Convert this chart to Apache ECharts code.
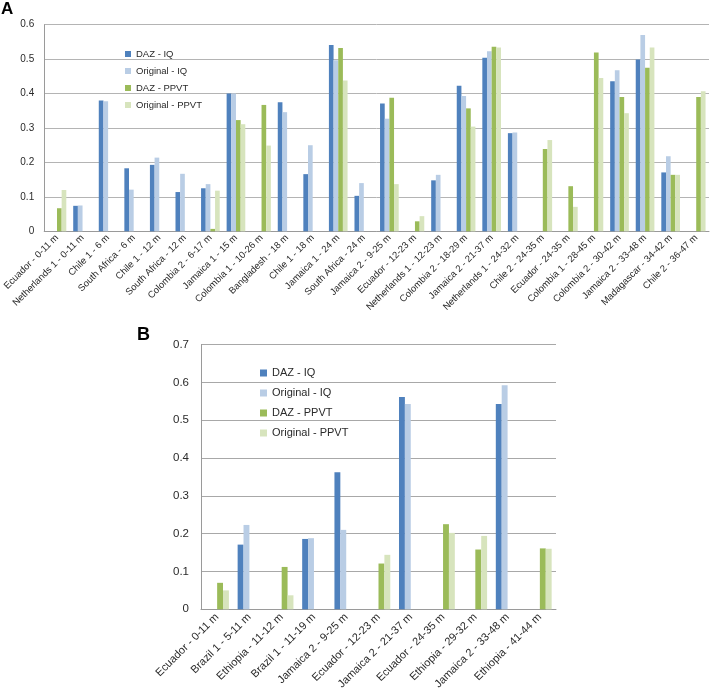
<!DOCTYPE html>
<html>
<head>
<meta charset="utf-8">
<script src="https://cdn.jsdelivr.net/npm/echarts@6/dist/echarts.min.js"></script>
<style>
html,body{margin:0;padding:0;background:#fff;}
#chart{width:710px;height:696px;}
</style>
</head>
<body>
<div id="chart"></div>
<script>
// ---------- Panel A data ----------
var categoriesA = [
  'Ecuador - 0-11 m','Netherlands 1 - 0-11 m','Chile 1 - 6 m','South Africa - 6 m','Chile 1 - 12 m',
  'South Africa - 12 m','Colombia 2 - 6-17 m','Jamaica 1 - 15 m','Colombia 1 - 10-26 m','Bangladesh - 18 m',
  'Chile 1 - 18 m','Jamaica 1 - 24 m','South Africa - 24 m','Jamaica 2 - 9-25 m','Ecuador - 12-23 m',
  'Netherlands 1 - 12-23 m','Colombia 2 - 18-29 m','Jamaica 2 - 21-37 m','Netherlands 1 - 24-32 m','Chile 2 - 24-35 m',
  'Ecuador - 24-35 m','Colombia 1 - 28-45 m','Colombia 2 - 30-42 m','Jamaica 2 - 33-48 m','Madagascar - 34-42 m',
  'Chile 2 - 36-47 m'
];
var dazIQ_A    = [null,0.074,0.380,0.183,0.193,0.114,0.125,0.400,null,0.375,0.166,0.541,0.103,0.371,null,0.148,0.423,0.504,0.285,null,null,null,0.436,0.499,0.171,null];
var origIQ_A   = [null,0.075,0.378,0.121,0.214,0.167,0.137,0.400,null,0.346,0.250,0.497,0.140,0.327,null,0.164,0.393,0.523,0.287,null,null,null,0.468,0.570,0.218,null];
var dazPPVT_A  = [0.067,null,null,null,null,null,0.007,0.323,0.367,null,null,0.532,null,0.388,0.029,null,0.357,0.536,null,0.239,0.131,0.519,0.390,0.475,0.164,0.390];
var origPPVT_A = [0.120,null,null,null,null,null,0.118,0.311,0.249,null,null,0.438,null,0.137,0.044,null,0.304,0.534,null,0.265,0.071,0.445,0.343,0.534,0.164,0.407];

// ---------- Panel B data ----------
var categoriesB = [
  'Ecuador - 0-11 m','Brazil 1 - 5-11 m','Ethiopia - 11-12 m','Brazil 1 - 11-19 m','Jamaica 2 - 9-25 m',
  'Ecuador - 12-23 m','Jamaica 2 - 21-37 m','Ecuador - 24-35 m','Ethiopia - 29-32 m','Jamaica 2 - 33-48 m',
  'Ethiopia - 41-44 m'
];
var dazIQ_B    = [null,0.171,null,0.186,0.362,null,0.561,null,null,0.543,null];
var origIQ_B   = [null,0.223,null,0.188,0.210,null,0.543,null,null,0.592,null];
var dazPPVT_B  = [0.070,null,0.112,null,null,0.121,null,0.225,0.158,null,0.161];
var origPPVT_B = [0.050,null,0.037,null,null,0.144,null,0.202,0.194,null,0.160];

var seriesNames = ['DAZ - IQ','Original - IQ','DAZ - PPVT','Original - PPVT'];
var seriesColors = ['#4F81BD','#B9CDE5','#9BBB59','#D7E4BD'];

var font = 'Liberation Sans, Arial, sans-serif';
var txt = '#2a2a2a';

function bars(idx, arrays) {
  return arrays.map(function (d, i) {
    return {
      name: seriesNames[i], type: 'bar', xAxisIndex: idx, yAxisIndex: idx,
      data: d, itemStyle: { color: seriesColors[i] },
      barGap: '0%', barCategoryGap: '27%'
    };
  });
}

var chart = echarts.init(document.getElementById('chart'), null, { renderer: 'canvas' });
chart.setOption({
  animation: false,
  backgroundColor: '#ffffff',
  color: seriesColors,
  title: [
    { text: 'A', left: 1, top: 1, padding: 0, textStyle: { fontSize: 17, fontWeight: 'bold', color: '#000', fontFamily: font } },
    { text: 'B', left: 137, top: 326, padding: 0, textStyle: { fontSize: 18, fontWeight: 'bold', color: '#000', fontFamily: font } }
  ],
  legend: [
    { data: seriesNames, orient: 'vertical', left: 125, top: 48, padding: 0, itemGap: 5,
      itemWidth: 6, itemHeight: 6, icon: 'rect', selectedMode: false,
      textStyle: { fontSize: 9.5, lineHeight: 12, color: txt, fontFamily: font } },
    { data: seriesNames, orient: 'vertical', left: 260, top: 366, padding: 0, itemGap: 6,
      itemWidth: 7, itemHeight: 7, icon: 'rect', selectedMode: false,
      textStyle: { fontSize: 11, lineHeight: 14, color: txt, fontFamily: font } }
  ],
  grid: [
    { left: 40, top: 24.7, width: 669, height: 206.6, containLabel: false },
    { left: 201, top: 344.5, width: 355, height: 264.8, containLabel: false }
  ],
  xAxis: [
    { type: 'category', gridIndex: 0, data: categoriesA,
      axisLine: { lineStyle: { color: '#9a9a9a' } },
      axisTick: { length: 4, lineStyle: { color: '#9a9a9a' } },
      axisLabel: { rotate: 45, interval: 0, fontSize: 9.5, color: txt, fontFamily: font, margin: 5 } },
    { type: 'category', gridIndex: 1, data: categoriesB,
      axisLine: { lineStyle: { color: '#9a9a9a' } },
      axisTick: { length: 4, lineStyle: { color: '#9a9a9a' } },
      axisLabel: { rotate: 45, interval: 0, fontSize: 11, color: txt, fontFamily: font, margin: 6 } }
  ],
  yAxis: [
    { type: 'value', gridIndex: 0, min: 0, max: 0.6, interval: 0.1,
      axisLine: { show: true, lineStyle: { color: '#9a9a9a' } }, axisTick: { show: false },
      splitLine: { lineStyle: { color: '#b4b4b4' } },
      axisLabel: { fontSize: 10, color: txt, fontFamily: font, margin: 10 } },
    { type: 'value', gridIndex: 1, min: 0, max: 0.7, interval: 0.1,
      axisLine: { show: true, lineStyle: { color: '#9a9a9a' } }, axisTick: { show: false },
      splitLine: { lineStyle: { color: '#a8a8a8' } },
      axisLabel: { fontSize: 11.5, color: txt, fontFamily: font, margin: 12 } }
  ],
  series: bars(0, [dazIQ_A, origIQ_A, dazPPVT_A, origPPVT_A])
    .concat(bars(1, [dazIQ_B, origIQ_B, dazPPVT_B, origPPVT_B]))
});
</script>
</body>
</html>
